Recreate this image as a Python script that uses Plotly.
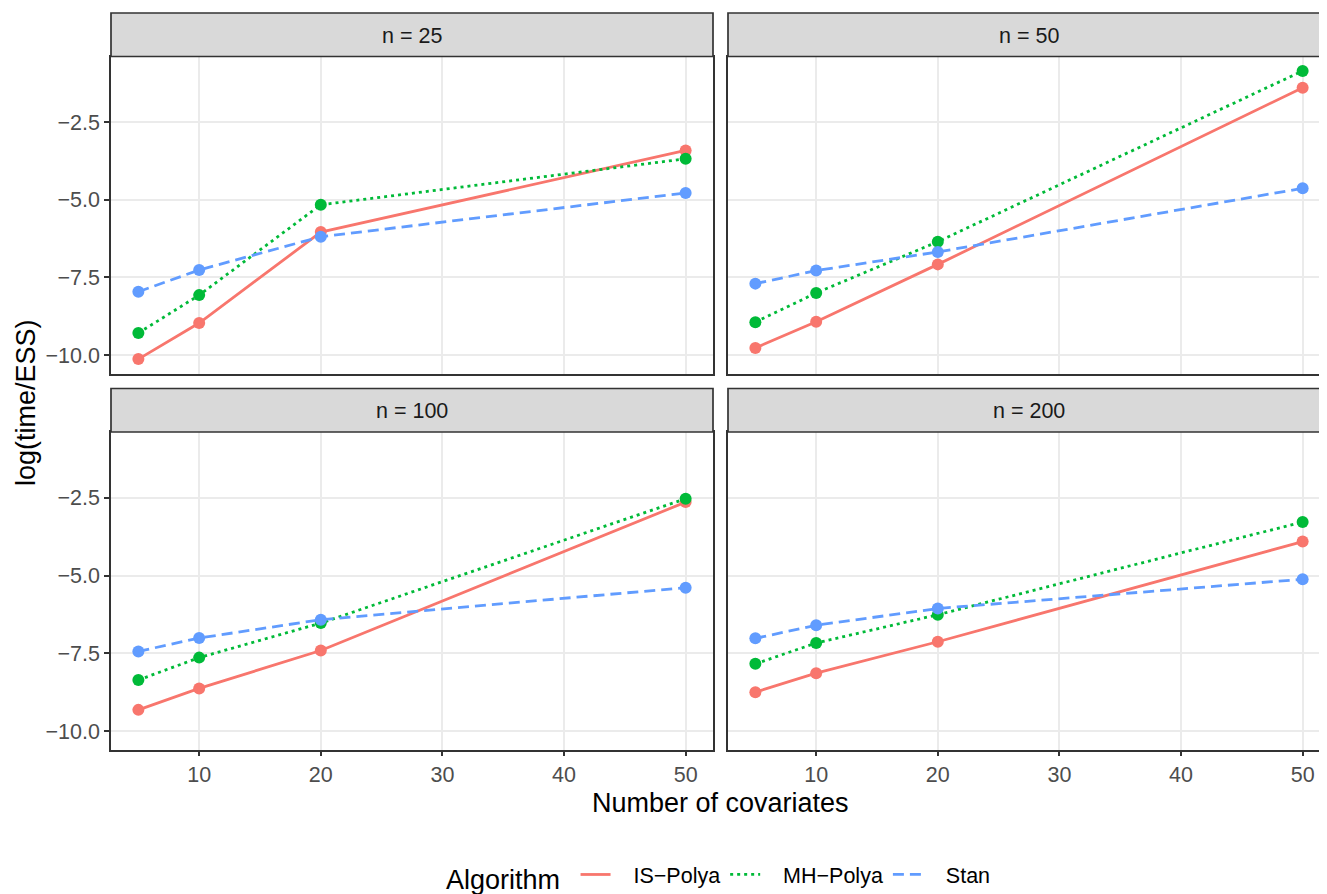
import plotly.graph_objects as go

# ---------------- data ----------------
covariates = [5, 10, 20, 50]
panel_labels = ["n = 25", "n = 50", "n = 100", "n = 200"]
algorithms = ["IS\u2212Polya", "MH\u2212Polya", "Stan"]

is_n25 = [-10.13, -8.97, -6.04, -3.41]
mh_n25 = [-9.29, -8.07, -5.16, -3.68]
stan_n25 = [-7.96, -7.26, -6.19, -4.78]

is_n50 = [-9.77, -8.93, -7.08, -1.39]
mh_n50 = [-8.94, -8.00, -6.35, -0.85]
stan_n50 = [-7.70, -7.28, -6.68, -4.63]

is_n100 = [-9.32, -8.63, -7.41, -2.64]
mh_n100 = [-8.36, -7.64, -6.53, -2.53]
stan_n100 = [-7.44, -7.01, -6.42, -5.39]

is_n200 = [-8.75, -8.14, -7.13, -3.91]
mh_n200 = [-7.84, -7.17, -6.26, -3.28]
stan_n200 = [-7.02, -6.60, -6.06, -5.12]

x_tickvals = [10, 20, 30, 40, 50]
x_ticktext = ["10", "20", "30", "40", "50"]
y_tickvals = [-10.0, -7.5, -5.0, -2.5]
y_ticktext = ["\u221210.0", "\u22127.5", "\u22125.0", "\u22122.5"]

panel_series = [
    [is_n25, mh_n25, stan_n25],
    [is_n50, mh_n50, stan_n50],
    [is_n100, mh_n100, stan_n100],
    [is_n200, mh_n200, stan_n200],
]

# ---------------- styling ----------------
PAGE_W, PAGE_H = 1327, 894
OFF = 8  # default body margin of the html page
W, H = PAGE_W - OFF, PAGE_H - OFF
FONT = "Liberation Sans, Arial, Helvetica, sans-serif"
colors = ["#F8766D", "#00BA38", "#619CFF"]
dashes = ["solid", "3px,4px", "11px,6px"]
BORDER = "#333333"
PAD = "\u00a0\u00a0\u00a0"


def fx(px):
    return (px - OFF) / W


def fy(py):
    return 1 - (py - OFF) / H


# panel boxes in page pixels: (left, right, top, bottom); right column is cut by the page edge
LEFT_W = 713 - 111
panel_boxes = [
    (111, 713, 56.5, 373.5),
    (728, PAGE_W, 56.5, 373.5),
    (111, 713, 432, 749.5),
    (728, PAGE_W, 432, 749.5),
]
strip_tops = [13, 13, 388.5, 388.5]

all_y = [v for p in panel_series for s in p for v in s]
ylo, yhi = min(all_y), max(all_y)
ypad = 0.05 * (yhi - ylo)
xlo, xhi = min(covariates), max(covariates)
xpad = 0.05 * (xhi - xlo)
xspan = (xhi - xlo) + 2 * xpad

fig = go.Figure()
layout = dict(
    width=W, height=H,
    margin=dict(l=0, r=0, t=0, b=0, pad=0, autoexpand=False),
    paper_bgcolor="white", plot_bgcolor="white",
    font=dict(family=FONT, color="#000000"),
    showlegend=True,
)

shapes = []
annotations = []

for i, (series, label) in enumerate(zip(panel_series, panel_labels)):
    k = "" if i == 0 else str(i + 1)
    L, R, T, B = panel_boxes[i]
    bottom_row = i >= 2
    left_col = i % 2 == 0
    # same data-to-pixel scale in every panel; the right column is truncated by the page
    xr = [xlo - xpad, xlo - xpad + xspan * (R - L) / LEFT_W]
    layout["xaxis" + k] = dict(
        domain=[fx(L), fx(R)], anchor="y" + k,
        range=xr,
        tickvals=x_tickvals, ticktext=x_ticktext,
        showticklabels=bottom_row,
        ticks="outside" if bottom_row else "",
        ticklen=5, tickwidth=1.5, tickcolor=BORDER,
        tickfont=dict(size=21.5, color="#4d4d4d", family=FONT),
        showgrid=True, gridcolor="#ebebeb", gridwidth=1.5,
        zeroline=False, automargin=False,
        showline=True, mirror=True, linecolor=BORDER, linewidth=1.7,
    )
    layout["yaxis" + k] = dict(
        domain=[fy(B), fy(T)], anchor="x" + k,
        range=[ylo - ypad, yhi + ypad],
        tickvals=y_tickvals, ticktext=y_ticktext,
        showticklabels=left_col,
        ticks="outside" if left_col else "",
        ticklen=5, tickwidth=1.5, tickcolor=BORDER,
        tickfont=dict(size=21.5, color="#4d4d4d", family=FONT),
        showgrid=True, gridcolor="#ebebeb", gridwidth=1.5,
        zeroline=False, automargin=False,
        showline=True, mirror=left_col, linecolor=BORDER, linewidth=1.7,
    )
    # strip
    st = strip_tops[i]
    full_R = L + LEFT_W
    shapes.append(dict(
        type="rect", xref="paper", yref="paper",
        x0=fx(L), x1=fx(full_R), y0=fy(T), y1=fy(st),
        fillcolor="#d9d9d9", line=dict(color=BORDER, width=1.7), layer="above",
    ))
    annotations.append(dict(
        text=label, xref="paper", yref="paper",
        x=fx((L + full_R) / 2), y=fy((st + T) / 2 + 1),
        xanchor="center", yanchor="middle", showarrow=False,
        font=dict(size=21.5, color="#1a1a1a", family=FONT),
    ))
    for j, (vals, name) in enumerate(zip(series, algorithms)):
        fig.add_trace(go.Scatter(
            x=covariates, y=vals, mode="lines", name=PAD + name,
            legendgroup=name, showlegend=(i == 0),
            line=dict(color=colors[j], width=2.8, dash=dashes[j]),
            xaxis="x" + k, yaxis="y" + k, hoverinfo="skip",
        ))
    for j, (vals, name) in enumerate(zip(series, algorithms)):
        fig.add_trace(go.Scatter(
            x=covariates, y=vals, mode="markers", name=name,
            legendgroup=name, showlegend=False,
            marker=dict(color=colors[j], size=12),
            xaxis="x" + k, yaxis="y" + k,
        ))

# axis titles
annotations.append(dict(
    text="Number of covariates", xref="paper", yref="paper",
    x=fx(720), y=fy(803), xanchor="center", yanchor="middle",
    showarrow=False, font=dict(size=27, color="#000000", family=FONT),
))
annotations.append(dict(
    text="log(time/ESS)", xref="paper", yref="paper",
    x=fx(26), y=fy(403), xanchor="center", yanchor="middle", textangle=-90,
    showarrow=False, font=dict(size=27, color="#000000", family=FONT),
))

layout["shapes"] = shapes
layout["annotations"] = annotations
layout["legend"] = dict(
    orientation="h", x=fx(720), xanchor="center", y=fy(877), yanchor="middle",
    title=dict(text="Algorithm\u00a0", side="left", font=dict(size=27, family=FONT, color="#000000")),
    font=dict(size=21.5, family=FONT, color="#000000"),
    itemwidth=30, tracegroupgap=0, bgcolor="rgba(0,0,0,0)",
)
fig.update_layout(**layout)
fig.write_html("out.html")
